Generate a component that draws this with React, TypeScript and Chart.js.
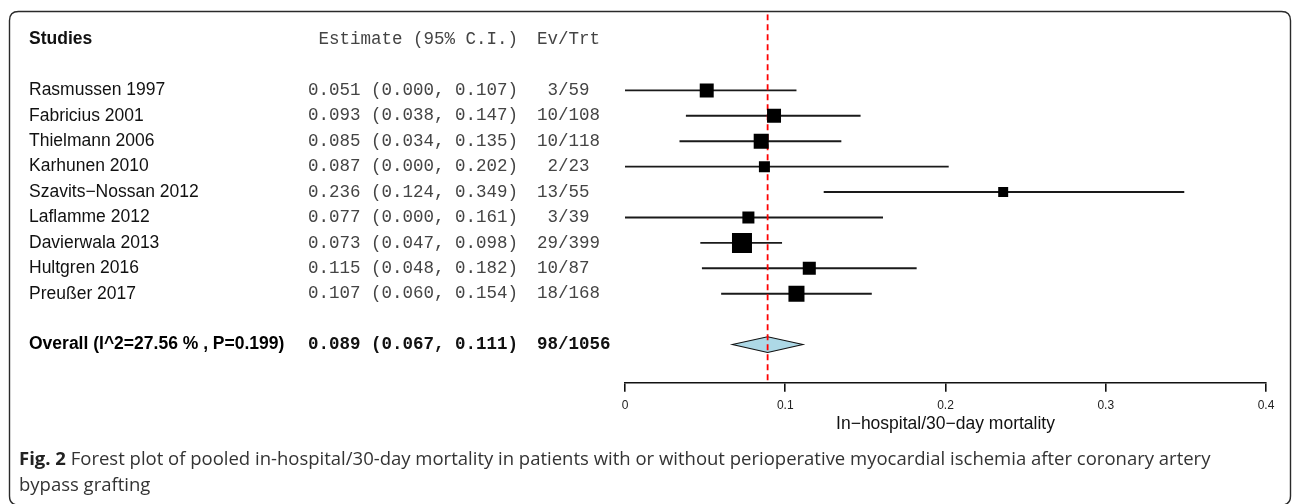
import React, { useEffect, useRef } from "react";
import { Chart, registerables } from "chart.js";

Chart.register(...registerables);

// ---------- data ----------
const studies = [
  "Rasmussen 1997",
  "Fabricius 2001",
  "Thielmann 2006",
  "Karhunen 2010",
  "Szavits\u2212Nossan 2012",
  "Laflamme 2012",
  "Davierwala 2013",
  "Hultgren 2016",
  "Preu\u00dfer 2017",
];
const estimates = [0.051, 0.093, 0.085, 0.087, 0.236, 0.077, 0.073, 0.115, 0.107];
const lowers = [0.0, 0.038, 0.034, 0.0, 0.124, 0.0, 0.047, 0.048, 0.06];
const uppers = [0.107, 0.147, 0.135, 0.202, 0.349, 0.161, 0.098, 0.182, 0.154];
const events = [3, 10, 10, 2, 13, 3, 29, 10, 18];
const totals = [59, 108, 118, 23, 55, 39, 399, 87, 168];
// relative study weights (%)
const weights = [10.8, 10.8, 12.5, 6.7, 5.5, 8.0, 22.1, 9.4, 14.2];

const overallLabel = "Overall (I^2=27.56 % , P=0.199)";
const overallEst = 0.089;
const overallLo = 0.067;
const overallHi = 0.111;

const xTicks = [0, 0.1, 0.2, 0.3, 0.4];
const xTitle = "In\u2212hospital/30\u2212day mortality";
const headerStudies = "Studies";
const headerEstimate = "Estimate (95% C.I.)";
const headerEvents = "Ev/Trt";
const captionBold = "Fig. 2";
const captionLine1 =
  " Forest plot of pooled in-hospital/30-day mortality in patients with or without perioperative myocardial ischemia after coronary artery";
const captionLine2 = "bypass grafting";

// ---------- layout ----------
const W = 1292;
const H = 504;
const SANS = "'Liberation Sans', Arial, sans-serif";
const MONO = "'Liberation Mono', 'Courier New', monospace";
const CAP = "'Open Sans', 'Noto Sans', sans-serif";
const ROW_MIN = -2;
const ROW_MAX = 12.5;
const HEADER_ROW = -1;
const OVERALL_ROW = 11;

const fmt = (v: number) => v.toFixed(3);

const textPlugin = {
  id: "forestText",
  beforeDraw(chart: any) {
    const ctx = chart.ctx;
    ctx.save();
    ctx.fillStyle = "#fff";
    ctx.fillRect(0, 0, W, H);
    // frame
    ctx.strokeStyle = "#2a2a2a";
    ctx.lineWidth = 1.4;
    const x0 = 9.5, y0 = 11.5, x1 = 1290.5, y1 = 505, r = 9;
    ctx.beginPath();
    ctx.moveTo(x0 + r, y0);
    ctx.lineTo(x1 - r, y0);
    ctx.quadraticCurveTo(x1, y0, x1, y0 + r);
    ctx.lineTo(x1, y1 - r);
    ctx.quadraticCurveTo(x1, y1, x1 - r, y1);
    ctx.lineTo(x0 + r, y1);
    ctx.quadraticCurveTo(x0, y1, x0, y1 - r);
    ctx.lineTo(x0, y0 + r);
    ctx.quadraticCurveTo(x0, y0, x0 + r, y0);
    ctx.stroke();
    ctx.restore();
  },
  beforeDatasetsDraw(chart: any) {
    const ctx = chart.ctx;
    const xs = chart.scales.x;
    const ys = chart.scales.y;
    const yc = ys.getPixelForValue(OVERALL_ROW);
    const hh = Math.abs(ys.getPixelForValue(OVERALL_ROW + 0.31) - yc);
    ctx.save();
    ctx.beginPath();
    ctx.moveTo(xs.getPixelForValue(overallLo), yc);
    ctx.lineTo(xs.getPixelForValue(overallEst), yc - hh);
    ctx.lineTo(xs.getPixelForValue(overallHi), yc);
    ctx.lineTo(xs.getPixelForValue(overallEst), yc + hh);
    ctx.closePath();
    ctx.fillStyle = "#add8e6";
    ctx.fill();
    ctx.strokeStyle = "#111";
    ctx.lineWidth = 1.1;
    ctx.stroke();
    ctx.restore();
  },
  afterDraw(chart: any) {
    const ctx = chart.ctx;
    const ys = chart.scales.y;
    ctx.save();
    ctx.textBaseline = "middle";
    const colStudy = 29;
    const colEstRight = 518;
    const colEv = 537;

    // header
    let y = ys.getPixelForValue(HEADER_ROW);
    ctx.fillStyle = "#111";
    ctx.font = `bold 17.5px ${SANS}`;
    ctx.textAlign = "left";
    ctx.fillText(headerStudies, colStudy, y);
    ctx.font = `17.5px ${MONO}`;
    ctx.fillStyle = "#444";
    ctx.textAlign = "right";
    ctx.fillText(headerEstimate, colEstRight, y);
    ctx.textAlign = "left";
    ctx.fillText(headerEvents, colEv, y);

    // rows
    studies.forEach((s, i) => {
      const yy = ys.getPixelForValue(i + 1);
      ctx.font = `17.5px ${SANS}`;
      ctx.fillStyle = "#111";
      ctx.textAlign = "left";
      ctx.fillText(s, colStudy, yy);
      ctx.font = `17.5px ${MONO}`;
      ctx.fillStyle = "#444";
      ctx.textAlign = "right";
      ctx.fillText(`${fmt(estimates[i])} (${fmt(lowers[i])}, ${fmt(uppers[i])})`, colEstRight, yy);
      ctx.textAlign = "left";
      ctx.fillText(`${String(events[i]).padStart(2, " ")}/${totals[i]}`, colEv, yy);
    });

    // overall
    y = ys.getPixelForValue(OVERALL_ROW);
    const sumEv = events.reduce((a, b) => a + b, 0);
    const sumN = totals.reduce((a, b) => a + b, 0);
    ctx.font = `bold 17.5px ${SANS}`;
    ctx.fillStyle = "#000";
    ctx.textAlign = "left";
    ctx.fillText(overallLabel, colStudy, y);
    ctx.font = `bold 17.5px ${MONO}`;
    ctx.fillStyle = "#111";
    ctx.textAlign = "right";
    ctx.fillText(`${fmt(overallEst)} (${fmt(overallLo)}, ${fmt(overallHi)})`, colEstRight, y);
    ctx.textAlign = "left";
    ctx.fillText(`${sumEv}/${sumN}`, colEv, y);

    // caption
    ctx.textAlign = "left";
    ctx.fillStyle = "#222";
    ctx.font = `bold 18.5px ${CAP}`;
    ctx.fillText(captionBold, 19, 460);
    const bw = ctx.measureText(captionBold).width;
    ctx.font = `18.5px ${CAP}`;
    ctx.fillStyle = "#333";
    ctx.fillText(captionLine1, 19 + bw, 460);
    ctx.fillText(captionLine2, 19, 486);
    ctx.restore();
  },
};

export default function App() {
  const ref = useRef<HTMLCanvasElement | null>(null);
  useEffect(() => {
    document.body.style.margin = "0";
    if (!ref.current) return;
    const boxSide = (w: number) => 20 * Math.sqrt(w / Math.max(...weights));
    const datasets: any[] = [
      {
        type: "scatter",
        data: estimates.map((e, i) => ({ x: e, y: i + 1 })),
        pointStyle: "rect",
        pointRadius: (c: any) => boxSide(weights[c.dataIndex] ?? 1) / Math.SQRT2,
        backgroundColor: "#000",
        borderColor: "#000",
        borderWidth: 0,
      },
      {
        type: "line",
        data: [
          { x: overallEst, y: ROW_MIN },
          { x: overallEst, y: ROW_MAX },
        ],
        borderColor: "#ff0000",
        borderWidth: 1.8,
        borderDash: [6, 4],
        pointRadius: 0,
      },
      ...studies.map((_, i) => ({
        type: "line",
        data: [
          { x: lowers[i], y: i + 1 },
          { x: uppers[i], y: i + 1 },
        ],
        borderColor: "#1a1a1a",
        borderWidth: 1.9,
        pointRadius: 0,
      })),
    ];
    const chart = new Chart(ref.current, {
      type: "scatter",
      data: { datasets },
      plugins: [textPlugin],
      options: {
        animation: false,
        responsive: false,
        events: [],
        layout: { padding: { left: 625, right: 26, top: 10, bottom: 69.3 } },
        plugins: { legend: { display: false }, tooltip: { enabled: false } },
        scales: {
          x: {
            type: "linear",
            min: xTicks[0],
            max: xTicks[xTicks.length - 1],
            afterBuildTicks: (s: any) => {
              s.ticks = xTicks.map((v) => ({ value: v }));
            },
            afterFit: (s: any) => {
              s.height = 52;
            },
            ticks: {
              font: { family: SANS, size: 12 },
              color: "#222",
              padding: 7,
              maxRotation: 0,
              callback: (v: any) => String(v),
            },
            grid: {
              display: true,
              drawOnChartArea: false,
              drawTicks: true,
              tickLength: 9,
              color: "#111",
              lineWidth: 1.6,
            },
            border: { display: true, color: "#111", width: 1.6 },
            title: {
              display: true,
              text: xTitle,
              font: { family: SANS, size: 17.5 },
              color: "#111",
              padding: { top: 0, bottom: 0 },
            },
          },
          y: {
            type: "linear",
            display: false,
            min: ROW_MIN,
            max: ROW_MAX,
            reverse: true,
          },
        },
      },
    });
    return () => chart.destroy();
  }, []);
  return <canvas ref={ref} width={W} height={H} style={{ display: "block", width: W, height: H }} />;
}
